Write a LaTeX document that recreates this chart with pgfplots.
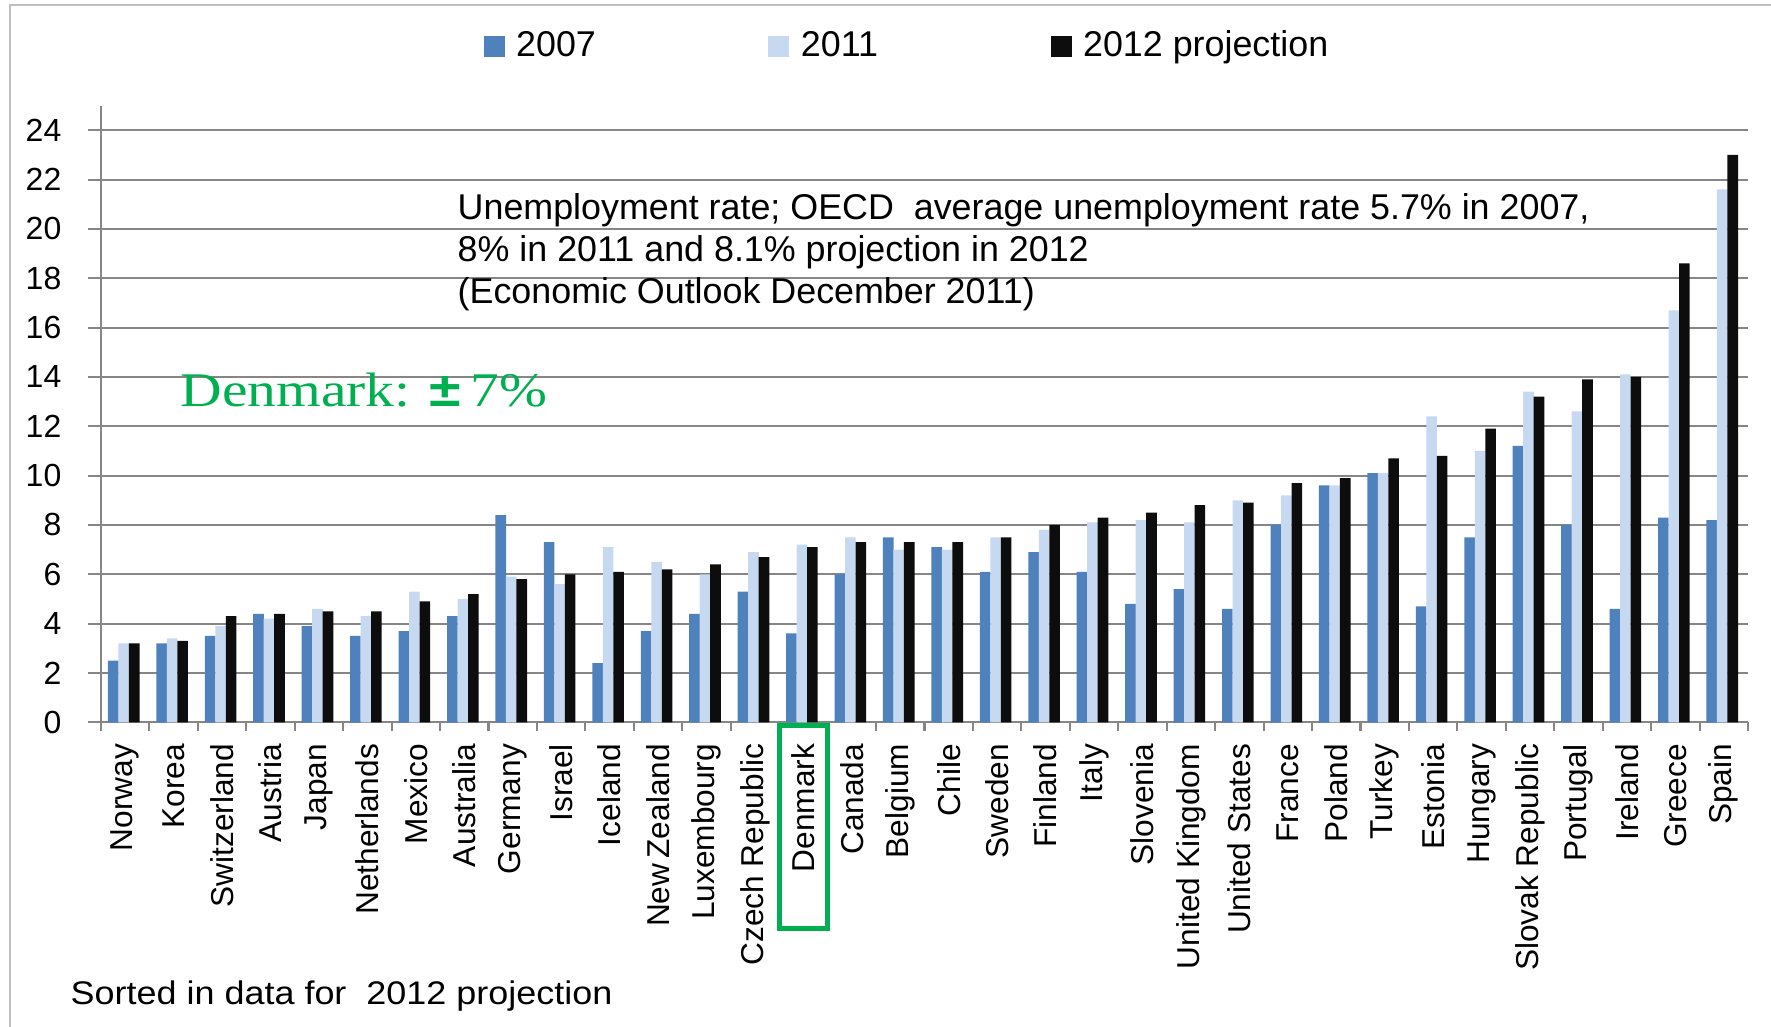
\documentclass[border=0pt]{standalone}
\usepackage{pgfplots}
\pgfplotsset{compat=1.18}
\usepackage{pgfplotstable}
\usepackage{graphicx}
\usepackage{fontspec}
\setmainfont{Liberation Sans}
\newfontfamily\seriffont{Liberation Serif}

\definecolor{c07}{HTML}{4F81BD}
\definecolor{c11}{HTML}{C6D9F1}
\definecolor{c12}{HTML}{0D0D0D}
\definecolor{axgray}{HTML}{868686}
\definecolor{framegray}{HTML}{BFBFBF}
\definecolor{dkgreen}{HTML}{00B050}

\pgfplotstableread{
idx y07 y11 y12
0 2.5 3.2 3.2
1 3.2 3.4 3.3
2 3.5 3.9 4.3
3 4.4 4.2 4.4
4 3.9 4.6 4.5
5 3.5 4.3 4.5
6 3.7 5.3 4.9
7 4.3 5.0 5.2
8 8.4 5.9 5.8
9 7.3 5.6 6.0
10 2.4 7.1 6.1
11 3.7 6.5 6.2
12 4.4 6.0 6.4
13 5.3 6.9 6.7
14 3.6 7.2 7.1
15 6.0 7.5 7.3
16 7.5 7.0 7.3
17 7.1 7.0 7.3
18 6.1 7.5 7.5
19 6.9 7.8 8.0
20 6.1 8.1 8.3
21 4.8 8.2 8.5
22 5.4 8.1 8.8
23 4.6 9.0 8.9
24 8.0 9.2 9.7
25 9.6 9.6 9.9
26 10.1 10.1 10.7
27 4.7 12.4 10.8
28 7.5 11.0 11.9
29 11.2 13.4 13.2
30 8.0 12.6 13.9
31 4.6 14.1 14.0
32 8.3 16.7 18.6
33 8.2 21.6 23.0
}\data

\begin{document}
\begin{tikzpicture}
\useasboundingbox (0,0) rectangle (17.71cm,10.27cm);
\draw[framegray, line width=0.02cm] (0.10cm,-1cm) -- (0.10cm,10.22cm) -- (19cm,10.22cm);
\begin{axis}[
  at={(1.01cm,3.047cm)}, anchor=south west,
  width=16.47cm, height=6.1675cm, scale only axis,
  xmin=-0.5, xmax=33.5, ymin=0, ymax=25,
  clip=false,
  ybar, bar width=0.106cm,
  axis x line*=bottom, axis y line*=left,
  axis line style={axgray, line width=0.6pt},
  ymajorgrids, grid style={axgray, line width=0.6pt},
  ytick={0,2,...,24},
  xtick={0,...,33},
  xticklabels={Norway,Korea,Switzerland,Austria,Japan,Netherlands,Mexico,Australia,Germany,Israel,Iceland,New\,Zealand,Luxembourg,Czech Republic,Denmark,Canada,Belgium,Chile,Sweden,Finland,Italy,Slovenia,United Kingdom,United States,France,Poland,Turkey,Estonia,Hungary,Slovak Republic,Portugal,Ireland,Greece,Spain},
  minor xtick={-0.5,0.5,...,33.5},
  tick align=outside,
  major tick length=0.13cm, minor tick length=0.09cm,
  tick style={axgray, line width=0.6pt},
  major x tick style={draw=none},
  /pgf/number format/assume math mode=true,
  yticklabel style={font=\fontsize{9.1}{10}\selectfont, anchor=east, inner sep=0pt},
  yticklabel shift=0.26cm,
  xticklabel style={font=\fontsize{9}{10}\selectfont, rotate=90, anchor=east, inner sep=0pt},
  xticklabel shift=0.08cm,
  legend columns=3,
  legend style={at={(0.2319,1.0957)}, anchor=west, draw=none, fill=none, inner sep=0pt,
    font=\fontsize{10.2}{12}\selectfont,
    /tikz/every even column/.append style={column sep=1.655cm}},
  legend image code/.code={\fill[#1] (0cm,-0.105cm) rectangle (0.21cm,0.105cm); \path (0.255cm,0cm);},
]
\addplot[fill=c07, draw=none, bar shift=-0.12cm] table[x=idx,y=y07]{\data};
\addplot[fill=c11, draw=none, bar shift=-0.015cm] table[x=idx,y=y11]{\data};
\addplot[fill=c12, draw=none, bar shift=0.09cm] table[x=idx,y=y12]{\data};
\legend{2007,2011,2012 projection}
\draw[dkgreen, line width=0.05cm] (axis cs:13.5,-0.15) rectangle (axis cs:14.5,-8.34);
\end{axis}
\node[anchor=base west, inner sep=0pt, font=\fontsize{10.2}{12}\selectfont] at (4.57cm,8.07cm) {Unemployment rate; OECD\ \ average unemployment rate 5.7\% in 2007,};
\node[anchor=base west, inner sep=0pt, font=\fontsize{10.2}{12}\selectfont] at (4.57cm,7.65cm) {8\% in 2011 and 8.1\% projection in 2012};
\node[anchor=base west, inner sep=0pt, font=\fontsize{10.2}{12}\selectfont] at (4.57cm,7.23cm) {(Economic Outlook December 2011)};
\node[anchor=base west, inner sep=0pt, text=dkgreen, font=\fontsize{13.75}{15}\selectfont] at (1.80cm,6.203cm) {\scalebox{1.19}[1]{\seriffont Denmark: {\fontspec{Liberation Sans}\bfseries ±}\,7\%}};
\node[anchor=base west, inner sep=0pt, font=\fontsize{9.3}{11}\selectfont] at (0.70cm,0.22cm) {\scalebox{1.1}[1]{Sorted in data for\ \ 2012 projection}};
\end{tikzpicture}
\end{document}
